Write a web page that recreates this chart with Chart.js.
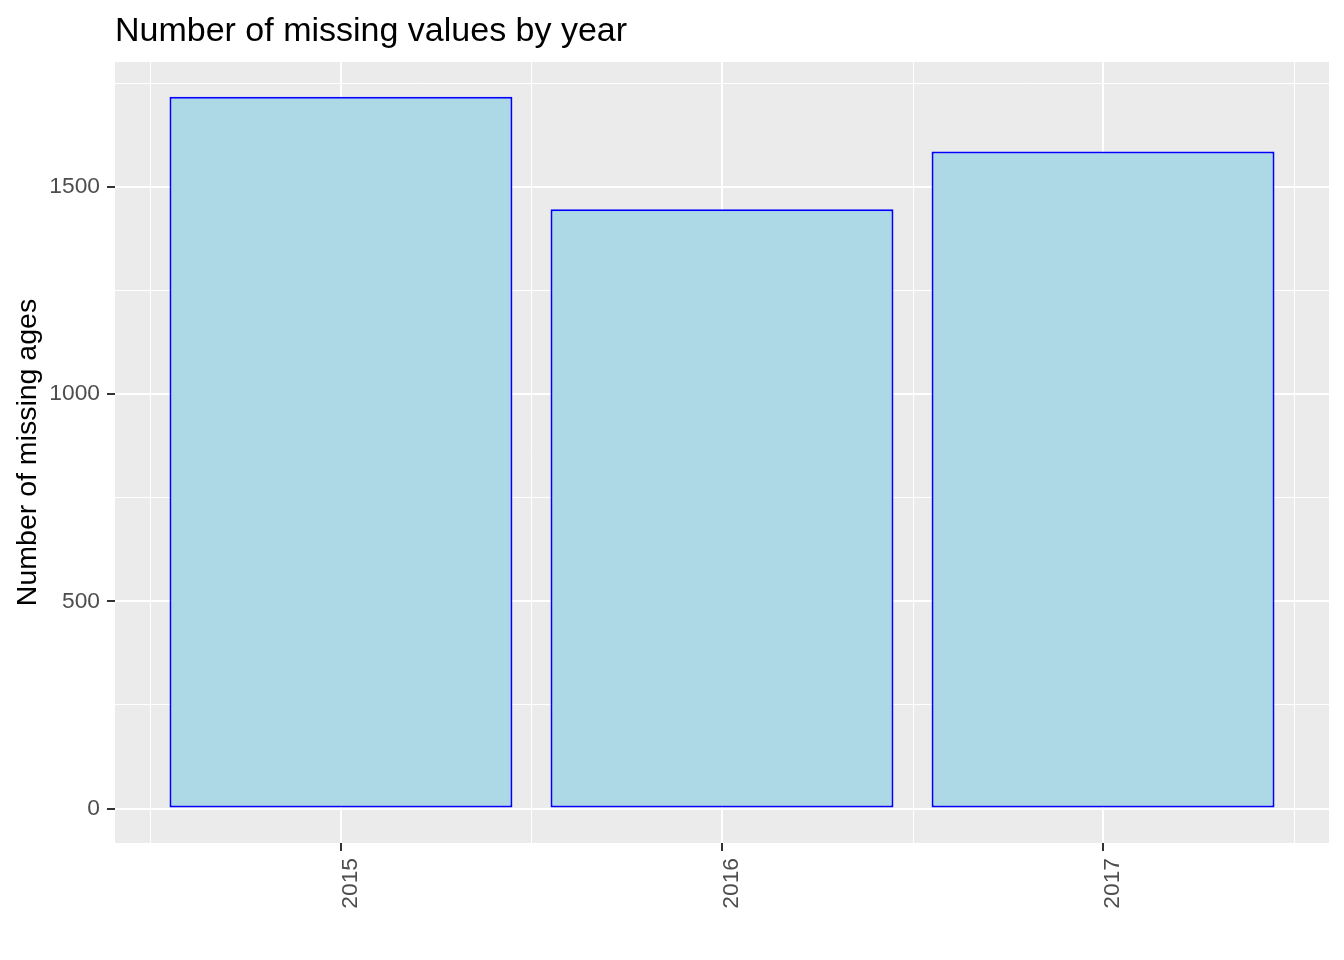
<!DOCTYPE html>
<html>
<head>
<meta charset="utf-8">
<script src="https://cdn.jsdelivr.net/npm/chart.js@4.4.1/dist/chart.umd.min.js"></script>
<style>
  html, body { margin: 0; padding: 0; background: #ffffff; }
  #wrap { width: 1344px; height: 960px; }
</style>
</head>
<body>
<div id="wrap"><canvas id="myChart" width="1344" height="960"></canvas></div>
<script>
'use strict';

// ********** DATA **********

let years = ['2015', '2016', '2017'];
let missingAges = [1717, 1446, 1585];
let yMajorTicks = [0, 500, 1000, 1500];
let yMinorTicks = [250, 750, 1250, 1750];
let xMinorTicks = [0.5, 1.5, 2.5, 3.5];

let chartTitle = 'Number of missing values by year';
let yTitle = 'Number of missing ages';

// ********** HELPERS **********

const FONT = "'Liberation Sans', Arial, sans-serif";

// ggplot grey panel, minor x grid and left aligned title
let panelPlugin = {
  id: 'panel',
  beforeDraw(chart) {
    let ctx = chart.ctx;
    let a = chart.chartArea;
    ctx.save();
    ctx.fillStyle = '#ffffff';
    ctx.fillRect(0, 0, chart.width, chart.height);
    ctx.fillStyle = '#EBEBEB';
    ctx.fillRect(a.left, a.top, a.right - a.left, a.bottom - a.top);
    ctx.restore();
  },
  beforeDatasetsDraw(chart) {
    let ctx = chart.ctx;
    let a = chart.chartArea;
    let x = chart.scales.x;
    ctx.save();
    ctx.strokeStyle = '#ffffff';
    ctx.lineWidth = 1;
    for (let i = 0; i < xMinorTicks.length; i++) {
      let px = Math.round(x.getPixelForValue(xMinorTicks[i])) + 0.5;
      ctx.beginPath();
      ctx.moveTo(px, a.top);
      ctx.lineTo(px, a.bottom);
      ctx.stroke();
    }
    ctx.restore();
  },
  afterDraw(chart) {
    let ctx = chart.ctx;
    ctx.save();
    ctx.fillStyle = '#000000';
    ctx.font = '34px ' + FONT;
    ctx.textBaseline = 'alphabetic';
    ctx.textAlign = 'left';
    ctx.fillText(chartTitle, chart.chartArea.left, 41);
    ctx.restore();
  }
};

let points = [];
for (let i = 0; i < years.length; i++) {
  points.push({ x: i + 1, y: missingAges[i] });
}

let yTicks = yMajorTicks.concat(yMinorTicks).sort((a, b) => a - b);

let chartData = {
  type: 'bar',
  data: {
    datasets: [{
      label: yTitle,
      data: points,
      backgroundColor: '#ADD8E6',
      borderColor: '#0000FF',
      borderWidth: 2,
      borderSkipped: false,
      barPercentage: 0.9,
      categoryPercentage: 1
    }]
  },
  options: {
    responsive: false,
    animation: false,
    devicePixelRatio: 1,
    layout: { padding: { top: 62, right: 15, bottom: 0, left: 0 } },
    plugins: {
      legend: { display: false },
      title: { display: false },
      tooltip: { enabled: false }
    },
    scales: {
      x: {
        type: 'linear',
        offset: false,
        min: 0.407,
        max: 3.593,
        afterBuildTicks(scale) {
          scale.ticks = years.map((y, i) => ({ value: i + 1 }));
        },
        afterFit(scale) { scale.height = 117; },
        border: { display: false },
        grid: {
          offset: false,
          color: '#ffffff',
          lineWidth: 2,
          tickLength: 8,
          tickWidth: 2,
          tickColor: '#333333'
        },
        ticks: {
          autoSkip: false,
          minRotation: 90,
          maxRotation: 90,
          padding: 7,
          labelOffset: 10,
          color: '#4D4D4D',
          font: { family: FONT, size: 22.8 },
          callback: (v) => years[v - 1]
        }
      },
      y: {
        type: 'linear',
        min: -83,
        max: 1801,
        afterBuildTicks(scale) {
          scale.ticks = yTicks.map(v => ({ value: v }));
        },
        afterFit(scale) { scale.width = 115; },
        border: { display: false },
        grid: {
          color: '#ffffff',
          lineWidth: (c) => (c.tick && yMajorTicks.includes(c.tick.value)) ? 2 : 1,
          tickLength: 8,
          tickWidth: 2,
          tickColor: (c) => (c.tick && yMajorTicks.includes(c.tick.value)) ? '#333333' : 'rgba(0,0,0,0)'
        },
        ticks: {
          autoSkip: false,
          padding: 7,
          color: '#4D4D4D',
          font: { family: FONT, size: 22.8 },
          callback: (v) => yMajorTicks.includes(v) ? String(v) : ''
        },
        title: {
          display: true,
          text: yTitle,
          color: '#000000',
          font: { family: FONT, size: 28.5 },
          padding: { top: 11, bottom: 0 }
        }
      }
    }
  },
  plugins: [panelPlugin]
};

// ********** EXECUTABLE **********
new Chart(document.querySelector('#myChart'), chartData);
</script>
</body>
</html>
